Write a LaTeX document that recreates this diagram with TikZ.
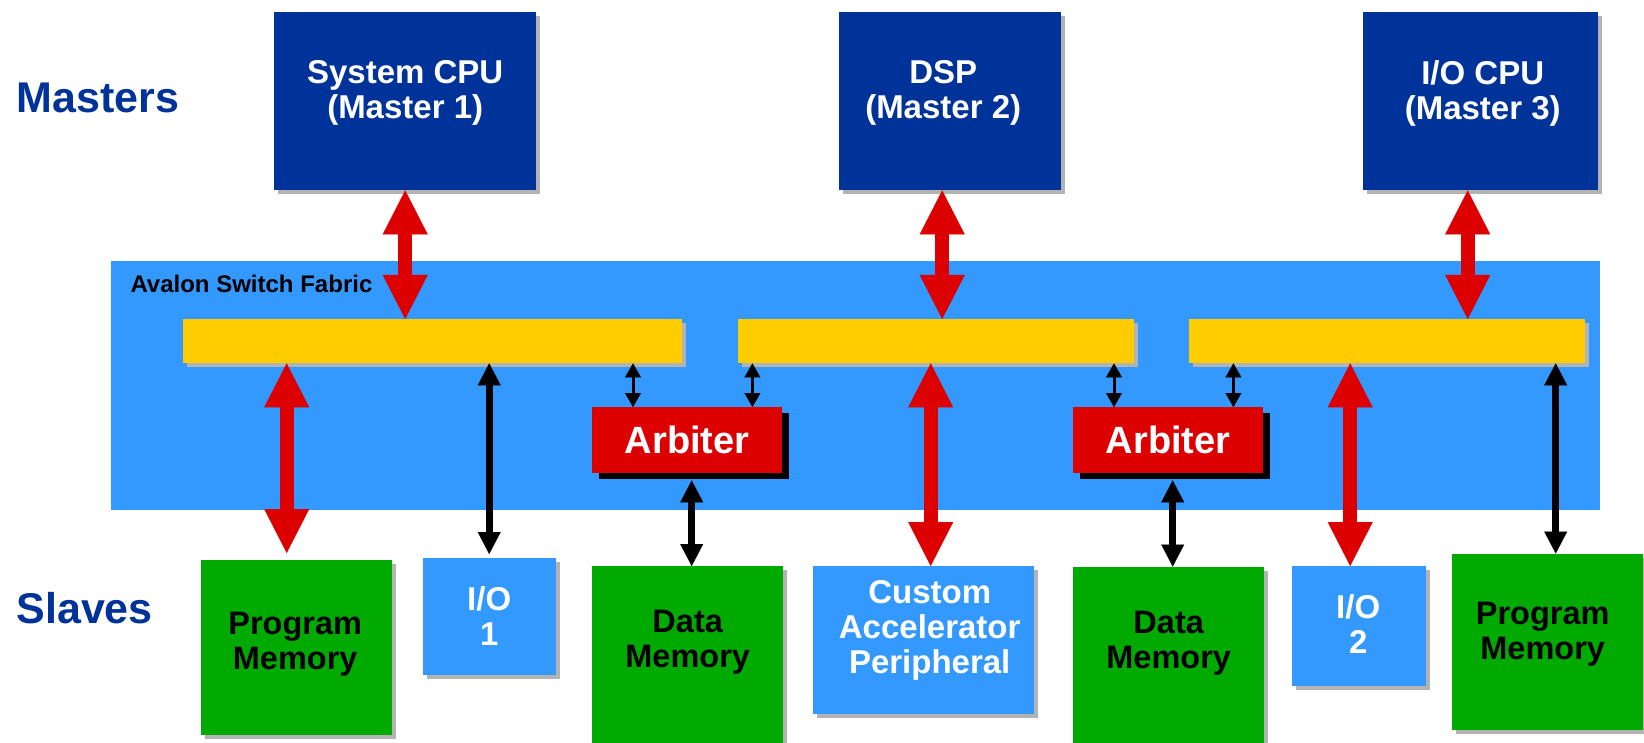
\documentclass[tikz,border=0pt]{standalone}
\usepackage{fontspec}
\setmainfont{Liberation Sans}
\usetikzlibrary{positioning}
\usetikzlibrary{calc}
\usetikzlibrary{arrows.meta}
\usetikzlibrary{shadows}

\definecolor{navy}{HTML}{003399}
\definecolor{fabric}{HTML}{3399FF}
\definecolor{busyellow}{HTML}{FFCC00}
\definecolor{arbred}{HTML}{DD0000}
\definecolor{memgreen}{HTML}{00AA00}
\definecolor{shade}{HTML}{B3B3B3}

\begin{document}
\begin{tikzpicture}[x=1pt, y=1pt, font=\bfseries,
		plain/.style={rectangle, anchor=north west, inner sep=0pt},
		block/.style={plain, drop shadow={shadow xshift=4pt, shadow yshift=-4pt, fill=shade, opacity=1}},
		master/.style={block, fill=navy, minimum height=178pt},
		bus/.style={block, fill=busyellow, minimum height=44pt},
		arbiter/.style={plain, fill=arbred, text=white, minimum width=190pt, minimum height=66pt, drop shadow={shadow xshift=7pt, shadow yshift=-6pt, fill=black, opacity=1}, font=\bfseries\fontsize{38}{40}\selectfont},
		boxtext/.style={inner sep=0pt, align=center, font=\bfseries\fontsize{33}{35}\selectfont},
		memtext/.style={inner sep=0pt, align=center, font=\bfseries\fontsize{32.5}{35}\selectfont},
		side/.style={anchor=base west, text=navy, font=\bfseries\fontsize{43}{45}\selectfont},
		redlink/.style={draw=arbred, line width=14pt, >={Triangle[length=44pt, width=45pt, line width=0.1pt]}, <->},
		blacklink/.style={draw=black, line width=7pt, >={Triangle[length=22pt, width=23pt, line width=0.1pt]}, <->},
		arblink/.style={draw=black, line width=3pt, >={Triangle[length=14pt, width=16pt, line width=0.1pt]}, <->}]
		\path[use as bounding box, clip] (0,0) rectangle (1644,-743);
		\node[side] (masters) at (13,-113) {Masters};
		\node[side] (slaves) at (13,-623) {Slaves};
		\node[master, minimum width=262pt] (cpu) at (274,-12) {};
		\node[master, minimum width=222pt] (dsp) at (839,-12) {};
		\node[master, minimum width=235pt] (iocpu) at (1363,-12) {};
		\node[boxtext, text=white, below=48pt of cpu.north] (cputext) {System CPU\\(Master 1)};
		\node[boxtext, text=white, below=48pt of dsp.north, xshift=-7pt] (dsptext) {DSP\\(Master 2)};
		\node[boxtext, text=white, below=48pt of iocpu.north, xshift=2pt] (iocputext) {I/O CPU\\(Master 3)};
		\node[plain, fill=fabric, minimum width=1489pt, minimum height=249pt] (fabric) at (111,-261) {};
		\node[anchor=base west, font=\bfseries\fontsize{24}{26}\selectfont] (fabrictext) at (127,-293) {Avalon Switch Fabric};
		\node[bus, minimum width=499pt] (bar1) at (183,-319) {};
		\node[bus, minimum width=396pt] (bar2) at (737.5,-319) {};
		\node[bus, minimum width=396pt] (bar3) at (1189,-319) {};
		\node[arbiter] (arb1) at (592,-407) {Arbiter};
		\node[arbiter] (arb2) at (1073,-407) {Arbiter};
		\node[block, fill=memgreen, minimum width=191pt, minimum height=175pt] (pm1) at (201,-560) {};
		\node[block, fill=fabric, minimum width=133pt, minimum height=117pt] (io1) at (422.5,-558) {};
		\node[block, fill=memgreen, minimum width=191pt, minimum height=200pt] (dm1) at (592,-566) {};
		\node[block, fill=fabric, minimum width=221pt, minimum height=148pt] (cap) at (813,-566) {};
		\node[block, fill=memgreen, minimum width=191pt, minimum height=200pt] (dm2) at (1073,-566.5) {};
		\node[block, fill=fabric, minimum width=134pt, minimum height=120pt] (io2) at (1292,-566) {};
		\node[block, fill=memgreen, minimum width=191pt, minimum height=176pt] (pm2) at (1452,-553.5) {};
		\node[memtext, below=51.5pt of pm1.north, xshift=-1.5pt] (pm1text) {Program\\Memory};
		\node[boxtext, text=white, below=28.5pt of io1.north] (io1text) {I/O\\1};
		\node[memtext, below=44pt of dm1.north] (dm1text) {Data\\Memory};
		\node[boxtext, text=white, below=14.6pt of cap.north, xshift=6pt] (captext) {Custom\\Accelerator\\Peripheral};
		\node[memtext, below=44pt of dm2.north] (dm2text) {Data\\Memory};
		\node[boxtext, text=white, below=28.7pt of io2.north, xshift=-1pt] (io2text) {I/O\\2};
		\node[memtext, below=48.3pt of pm2.north, xshift=-5pt] (pm2text) {Program\\Memory};
		\coordinate (m2) at ([xshift=-8pt]dsp.south);
		\coordinate (m3) at ([xshift=-13pt]iocpu.south);
		\draw[redlink] (cpu.south) -- (cpu.south |- bar1.north);
		\draw[redlink] (m2) -- (m2 |- bar2.north);
		\draw[redlink] (m3) -- (m3 |- bar3.north);
		\coordinate (s1) at ([xshift=-10pt]pm1.north);
		\coordinate (s3) at ([xshift=7pt]cap.north);
		\coordinate (s5) at ([xshift=-9pt]io2.north);
		\coordinate (s6) at ([xshift=8pt]pm2.north);
		\draw[redlink, shorten >=7pt] (s1 |- bar1.south) -- (s1);
		\draw[blacklink, shorten >=4pt] (io1.north |- bar1.south) -- (io1.north);
		\draw[redlink] (s3 |- bar2.south) -- (s3);
		\draw[redlink] (s5 |- bar3.south) -- (s5);
		\draw[blacklink] (s6 |- bar3.south) -- (s6);
		\coordinate (a1) at ([xshift=41pt]arb1.north west);
		\coordinate (a2) at ([xshift=-30pt]arb1.north east);
		\coordinate (a3) at ([xshift=41pt]arb2.north west);
		\coordinate (a4) at ([xshift=-30pt]arb2.north east);
		\draw[arblink] (a1 |- bar1.south) -- (a1);
		\draw[arblink] (a2 |- bar2.south) -- (a2);
		\draw[arblink] (a3 |- bar2.south) -- (a3);
		\draw[arblink] (a4 |- bar3.south) -- (a4);
		\coordinate (d1) at ([xshift=4pt]dm1.north);
		\coordinate (d2) at ([xshift=4pt]dm2.north);
		\draw[blacklink, shorten <=7pt] (d1 |- arb1.south) -- (d1);
		\draw[blacklink, shorten <=7pt] (d2 |- arb2.south) -- (d2);
	\end{tikzpicture}
\end{document}
